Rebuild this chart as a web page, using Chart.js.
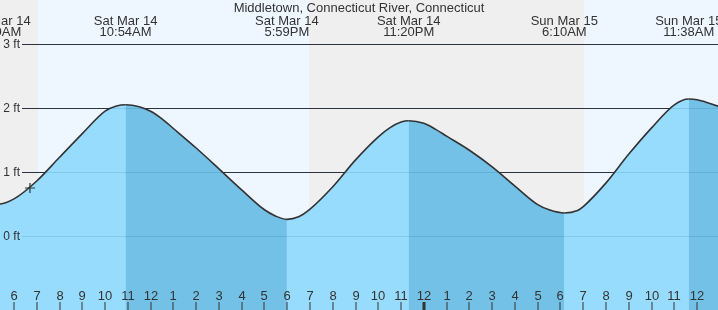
<!DOCTYPE html>
<html>
<head>
<meta charset="utf-8">
<script src="https://cdn.jsdelivr.net/npm/chart.js@4.4.0/dist/chart.umd.min.js"></script>
<style>
  html, body { margin: 0; padding: 0; background: #fff; }
  #wrap { width: 718px; height: 310px; }
</style>
</head>
<body>
<div id="wrap"><canvas id="tideChart" width="718" height="310"></canvas></div>
<script>
// Station title
const stationName = 'Middletown, Connecticut River, Connecticut';

// Hours counted from midnight Sat Mar 14 (24 = midnight Sun Mar 15)
// readings taken off the curve (hours right at a high/low are covered by the extremes below)
const readHours = [5, 6, 7, 8, 9, 10, 10.5, 11.5, 12, 12.5, 13, 14, 15, 16, 17, 17.5,
                   18.5, 19, 20, 21, 22, 22.5, 23, 24, 24.5, 25, 26, 27, 28, 29, 29.5,
                   30.75, 31, 32, 33, 34, 35, 36, 37];
// Water level in feet
const readLevels = [0.52, 0.58, 0.86, 1.23, 1.60, 1.95, 2.03, 2.02, 1.95, 1.83, 1.68, 1.375, 1.05, 0.72, 0.41, 0.31,
                    0.30, 0.42, 0.77, 1.19, 1.55, 1.69, 1.78, 1.76, 1.67, 1.56, 1.34, 1.08, 0.78, 0.49, 0.41,
                    0.40, 0.46, 0.83, 1.28, 1.69, 2.05, 2.13, 2.02];

// High / low tides
const extremeHours = [5.333, 10.9, 17.983, 23.333, 30.167, 35.633];
const extremeLevels = [0.50, 2.05, 0.26, 1.80, 0.36, 2.14];
const extremeDays = ['Sat Mar 14', 'Sat Mar 14', 'Sat Mar 14', 'Sat Mar 14', 'Sun Mar 15', 'Sun Mar 15'];
const extremeTimes = ['5:20AM', '10:54AM', '5:59PM', '11:20PM', '6:10AM', '11:38AM'];

// Daylight periods (sunrise -> sunset)
const dayStart = [7.05, 31.03];
const dayEnd = [18.96, 37.5];

// Current time marker
const nowHour = 6.7;
const nowLevel = 0.75;

const yTicks = [0, 1, 2, 3];
const xMin = 5.385, xMax = 36.917;
const yMin = -1.156, yMax = 3.6875;

const FONT = '"Liberation Sans", Arial, sans-serif';
const TEXT = '#333';
const RISING = '#97dcfd';
const FALLING = '#73c1e6';

// merge readings and tide extremes into one sorted series
const tidePoints = readHours.map((h, i) => ({x: h, y: readLevels[i]}))
    .concat(extremeHours.map((h, i) => ({x: h, y: extremeLevels[i]})))
    .sort((a, b) => a.x - b.x);

function hourLabel(h) {
    const v = ((h % 12) + 12) % 12;
    return String(v === 0 ? 12 : v);
}

const tidePlugin = {
    id: 'tideDecor',
    beforeDatasetsDraw(chart) {
        const ctx = chart.ctx;
        const xs = chart.scales.x, ys = chart.scales.y;
        const area = chart.chartArea;
        ctx.save();
        // night
        ctx.fillStyle = '#efefef';
        ctx.fillRect(area.left, area.top, area.right - area.left, area.bottom - area.top);
        // day
        ctx.fillStyle = '#eef7ff';
        dayStart.forEach((s, i) => {
            const x0 = xs.getPixelForValue(s);
            const x1 = xs.getPixelForValue(dayEnd[i]);
            ctx.fillRect(x0, area.top, x1 - x0, area.bottom - area.top);
        });
        // grid lines
        ctx.strokeStyle = TEXT;
        ctx.lineWidth = 1;
        yTicks.forEach(v => {
            const y = Math.round(ys.getPixelForValue(v)) + 0.5;
            ctx.beginPath();
            ctx.moveTo(22, y);
            ctx.lineTo(area.right, y);
            ctx.stroke();
        });
        ctx.restore();
    },
    afterDatasetsDraw(chart) {
        const ctx = chart.ctx;
        const xs = chart.scales.x, ys = chart.scales.y;
        const area = chart.chartArea;
        ctx.save();
        // grid lines showing faintly through the water, plus labels
        ctx.lineWidth = 1;
        ctx.fillStyle = TEXT;
        ctx.font = '12px ' + FONT;
        ctx.textAlign = 'right';
        ctx.textBaseline = 'middle';
        yTicks.forEach(v => {
            const y = Math.round(ys.getPixelForValue(v)) + 0.5;
            ctx.strokeStyle = 'rgba(0, 60, 100, 0.13)';
            ctx.beginPath();
            ctx.moveTo(22, y);
            ctx.lineTo(area.right, y);
            ctx.stroke();
            ctx.fillText(v + ' ft', 20, y + 0.5);
        });
        // hour ticks and labels
        ctx.fillStyle = TEXT;
        ctx.font = '13px ' + FONT;
        ctx.textAlign = 'center';
        ctx.textBaseline = 'alphabetic';
        for (let h = Math.ceil(xMin); h <= Math.floor(xMax); h++) {
            const x = Math.round(xs.getPixelForValue(h));
            ctx.fillText(hourLabel(h), x, 300);
            if (h % 24 === 0) {
                ctx.fillRect(x - 1.5, 302, 3, 8);
            } else {
                ctx.fillRect(x - 0.5, 302, 1, 8);
            }
        }
        // title
        ctx.fillText(stationName, (area.left + area.right) / 2, 12);
        // tide extreme labels
        extremeHours.forEach((h, i) => {
            const x = xs.getPixelForValue(h);
            ctx.fillText(extremeDays[i], x, 25);
            ctx.fillText(extremeTimes[i], x, 36);
        });
        ctx.restore();
    }
};

const ctx = document.getElementById('tideChart').getContext('2d');
const tideChart = new Chart(ctx, {
    type: 'line',
    data: {
        datasets: [
            {
                label: 'Now',
                data: [{x: nowHour, y: nowLevel}],
                showLine: false,
                pointStyle: 'cross',
                pointRadius: 5,
                borderColor: TEXT,
                borderWidth: 1.2,
                fill: false,
                order: 0
            },
            {
                label: 'Tide',
                data: tidePoints,
                borderColor: TEXT,
                borderWidth: 1.6,
                pointRadius: 0,
                fill: 'start',
                backgroundColor: RISING,
                cubicInterpolationMode: 'monotone',
                segment: {
                    // falling tide drawn darker
                    backgroundColor: c => c.p1.parsed.y < c.p0.parsed.y ? FALLING : RISING
                },
                order: 1
            },
            {
                // plain water underneath so segment seams don't show
                label: 'Water',
                data: tidePoints,
                borderWidth: 0,
                pointRadius: 0,
                fill: 'start',
                backgroundColor: RISING,
                cubicInterpolationMode: 'monotone',
                order: 2
            }
        ]
    },
    options: {
        responsive: false,
        animation: false,
        layout: { padding: 0, autoPadding: false },
        scales: {
            x: { type: 'linear', min: xMin, max: xMax, display: false },
            y: { min: yMin, max: yMax, display: false }
        },
        plugins: {
            legend: { display: false },
            tooltip: { enabled: false },
            title: { display: false }
        }
    },
    plugins: [tidePlugin]
});
</script>
</body>
</html>
